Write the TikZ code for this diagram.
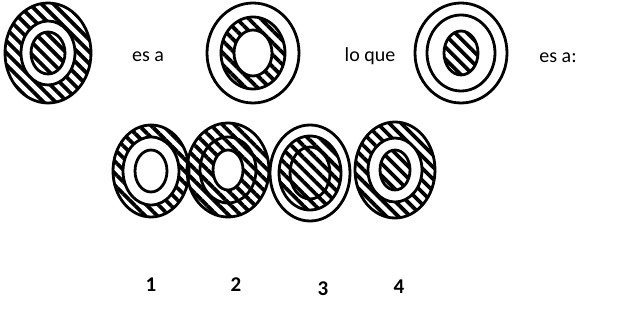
\documentclass[tikz,border=0pt]{standalone}
\usepackage{fontspec}
\setmainfont{Carlito}
\usetikzlibrary{patterns.meta}
\begin{document}
\begin{tikzpicture}[x=1pt,y=-1pt,
  ol/.style={line width=2.8pt},
  hatch/.style={pattern={Lines[angle=-45,distance=8.5pt,line width=3.8pt]},pattern color=black},
  txt/.style={font=\fontsize{20}{24}\selectfont,anchor=base},
  num/.style={font=\fontsize{21}{25}\selectfont\bfseries,anchor=base}]
\useasboundingbox (0,0) rectangle (637,323);
% ---- A
\fill[hatch,even odd rule] (48,53) ellipse [x radius=43,y radius=50] (48,53) ellipse [x radius=27,y radius=32];
\fill[hatch] (48,53) ellipse [x radius=17,y radius=21];
\draw[ol] (48,53) ellipse [x radius=43,y radius=50] (48,53) ellipse [x radius=27,y radius=32] (48,53) ellipse [x radius=17,y radius=21];
\node[txt] (t1) at (148,62) {es a};
% ---- B
\fill[hatch,even odd rule] (253,53) ellipse [x radius=32,y radius=36] (253,53) ellipse [x radius=19,y radius=23];
\draw[ol] (253,53) ellipse [x radius=46,y radius=50] (253,53) ellipse [x radius=32,y radius=36] (253,53) ellipse [x radius=19,y radius=23];
\node[txt] (t2) at (370,62) {lo que};
% ---- C
\fill[hatch] (461,53) ellipse [x radius=17,y radius=22];
\draw[ol] (461,53) ellipse [x radius=46,y radius=50] (461,53) ellipse [x radius=34,y radius=38] (461,53) ellipse [x radius=17,y radius=22];
\node[txt] (t3) at (558,63) {es a:};
% ---- 1
\fill[hatch,even odd rule] (151,171) ellipse [x radius=38,y radius=46] (151,171) ellipse [x radius=28,y radius=34];
\draw[ol] (151,171) ellipse [x radius=38,y radius=46] (151,171) ellipse [x radius=28,y radius=34] (151,171) ellipse [x radius=16,y radius=21];
% ---- 2
\fill[hatch,even odd rule] (228,170) ellipse [x radius=41,y radius=47] (228,170) ellipse [x radius=15,y radius=20];
\draw[ol] (228,170) ellipse [x radius=41,y radius=47] (228,170) ellipse [x radius=28,y radius=33] (228,170) ellipse [x radius=15,y radius=20];
% ---- 3
\fill[hatch] (310,173) ellipse [x radius=31,y radius=37];
\draw[ol] (310,173) ellipse [x radius=40,y radius=48] (310,173) ellipse [x radius=31,y radius=37] (310,173) ellipse [x radius=20,y radius=26];
% ---- 4
\fill[hatch,even odd rule] (395,170) ellipse [x radius=40,y radius=48] (395,170) ellipse [x radius=27,y radius=32];
\fill[hatch] (395,170) ellipse [x radius=15,y radius=20];
\draw[ol] (395,170) ellipse [x radius=40,y radius=48] (395,170) ellipse [x radius=27,y radius=32] (395,170) ellipse [x radius=15,y radius=20];
% ---- labels
\node[num] (n1) at (151,291) {1};
\node[num] (n2) at (236,291) {2};
\node[num] (n3) at (323,295) {3};
\node[num] (n4) at (399,293) {4};
\end{tikzpicture}
\end{document}
